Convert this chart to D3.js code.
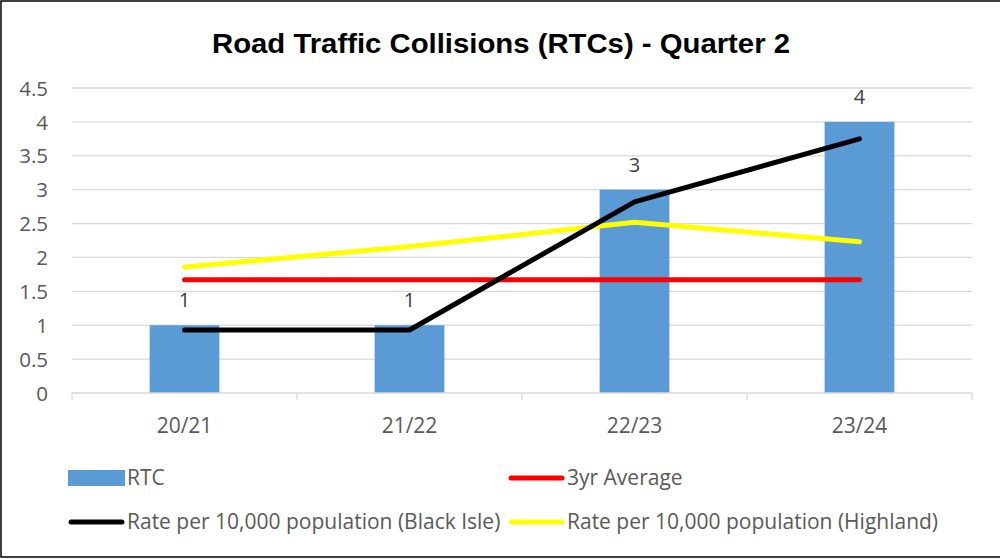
<!DOCTYPE html>
<html>
<head>
<meta charset="utf-8">
<script src="https://cdn.jsdelivr.net/npm/d3@7"></script>
<style>
  body { margin: 0; background: #fff; }
  svg { display: block; font-family: "Open Sans", "Liberation Sans", sans-serif; }
</style>
</head>
<body>
<svg id="chart" width="1000" height="559"></svg>
<script>
// chart data
const categories = ["20/21", "21/22", "22/23", "23/24"];
const rtc = [1, 1, 3, 4];
const avg3yr = [1.67, 1.67, 1.67, 1.67];
const rateBlackIsle = [0.93, 0.93, 2.82, 3.75];
const rateHighland = [1.86, 2.16, 2.52, 2.23];
const yTicks = [0, 0.5, 1, 1.5, 2, 2.5, 3, 3.5, 4, 4.5];

const svg = d3.select("#chart");

  // outer frame
svg.append("rect")
    .attr("x", 1).attr("y", 1)
    .attr("width", 1010).attr("height", 556)
    .attr("fill", "none")
    .attr("stroke", "#000")
    .attr("stroke-width", 1.5);

svg.append("text")
    .attr("x", 501).attr("y", 53)
    .attr("text-anchor", "middle")
    .attr("textLength", 578)
    .attr("lengthAdjust", "spacingAndGlyphs")
    .style("font-family", "'Liberation Sans', Arial, sans-serif")
    .style("font-weight", "bold")
    .style("font-size", "28px")
    .attr("fill", "#000")
    .text("Road Traffic Collisions (RTCs) - Quarter 2");

  // scales
const x = d3.scaleBand()
    .domain(categories)
    .range([72, 972])
    .paddingInner(0.69)
    .paddingOuter(0.345);

const y = d3.scaleLinear()
    .domain([0, 4.5])
    .range([393, 88]);

const cx = d => x(d) + x.bandwidth() / 2;

  // gridlines
svg.append("g")
    .selectAll("line")
    .data(yTicks.filter(t => t > 0))
    .enter()
    .append("line")
    .attr("x1", 72).attr("x2", 972)
    .attr("y1", d => y(d)).attr("y2", d => y(d))
    .attr("stroke", "#d9d9d9")
    .attr("stroke-width", 1.3);

  // y axis labels
const yAxis = svg.append("g")
    .attr("transform", "translate(48,0)")
    .call(d3.axisLeft(y).tickValues(yTicks).tickSize(0).tickPadding(0).tickFormat(d3.format("")));
yAxis.select(".domain").remove();
yAxis.selectAll("text")
    .attr("fill", "#595959")
    .style("font-family", "'Open Sans', sans-serif")
    .style("font-size", "20.5px")
    .attr("dy", "0.35em");

  // bars
svg.selectAll(".bar")
    .data(rtc)
    .enter()
    .append("rect")
    .attr("class", "bar")
    .attr("x", (d, i) => x(categories[i]))
    .attr("y", d => y(d))
    .attr("width", x.bandwidth())
    .attr("height", d => y(0) - y(d))
    .attr("fill", "#5b9bd5");

  // x axis
const xAxis = svg.append("g")
    .attr("transform", `translate(0,${y(0)})`);
xAxis.append("line")
    .attr("x1", 72).attr("x2", 972)
    .attr("stroke", "#d9d9d9").attr("stroke-width", 1.3);
xAxis.selectAll(".tk")
    .data(d3.range(categories.length + 1))
    .enter()
    .append("line")
    .attr("x1", i => 72 + i * x.step()).attr("x2", i => 72 + i * x.step())
    .attr("y1", 0).attr("y2", 7)
    .attr("stroke", "#d9d9d9").attr("stroke-width", 1.3);
xAxis.selectAll(".cat")
    .data(categories)
    .enter()
    .append("text")
    .attr("x", d => cx(d))
    .attr("y", 40)
    .attr("text-anchor", "middle")
    .attr("fill", "#595959")
    .style("font-size", "21px")
    .text(d => d);

  // lines
const line = d3.line()
    .x((d, i) => cx(categories[i]))
    .y(d => y(d));

const series = [
    { values: avg3yr, color: "#ff0000" },
    { values: rateHighland, color: "#ffff00" },
    { values: rateBlackIsle, color: "#000000" }
];
svg.selectAll(".series")
    .data(series)
    .enter()
    .append("path")
    .attr("d", d => line(d.values))
    .attr("fill", "none")
    .attr("stroke", d => d.color)
    .attr("stroke-width", 5)
    .attr("stroke-linecap", "round")
    .attr("stroke-linejoin", "round");

  // bar labels
svg.selectAll(".label")
    .data(rtc)
    .enter()
    .append("text")
    .attr("x", (d, i) => cx(categories[i]))
    .attr("y", d => y(d) - 18)
    .attr("text-anchor", "middle")
    .attr("fill", "#404040")
    .style("font-size", "20px")
    .text(d => d);

  // legend
const legendItems = [
    { label: "RTC", type: "rect", color: "#5b9bd5", x: 68, y: 478 },
    { label: "3yr Average", type: "line", color: "#ff0000", x: 508, y: 478 },
    { label: "Rate per 10,000 population (Black Isle)", type: "line", color: "#000000", x: 68, y: 522 },
    { label: "Rate per 10,000 population (Highland)", type: "line", color: "#ffff00", x: 508, y: 522 }
];
const legend = svg.append("g");
legendItems.forEach(item => {
    if (item.type === "rect") {
        legend.append("rect")
            .attr("x", item.x).attr("y", item.y - 8)
            .attr("width", 57).attr("height", 16)
            .attr("fill", item.color);
    } else {
        legend.append("line")
            .attr("x1", item.x + 3).attr("x2", item.x + 54)
            .attr("y1", item.y).attr("y2", item.y)
            .attr("stroke", item.color)
            .attr("stroke-width", 5)
            .attr("stroke-linecap", "round");
    }
    legend.append("text")
        .attr("x", item.x + 59)
        .attr("y", item.y)
        .attr("dy", "0.35em")
        .attr("fill", "#595959")
        .style("font-size", "21px")
        .text(item.label);
});
</script>
</body>
</html>
